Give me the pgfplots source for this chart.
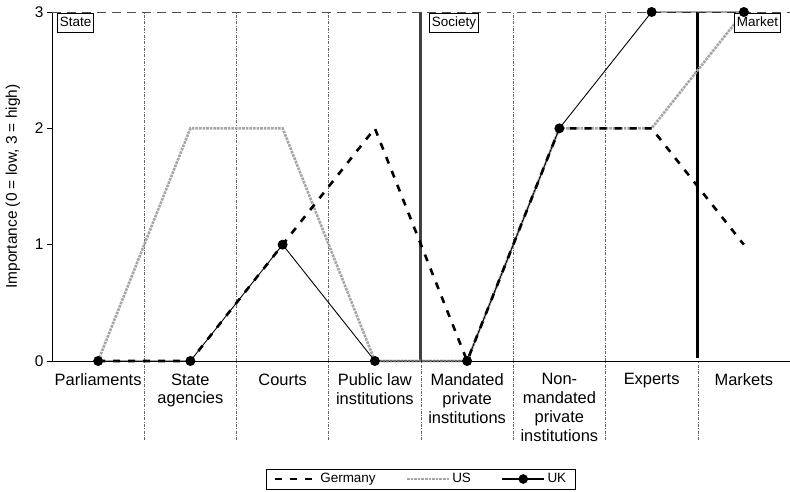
\documentclass[border=0pt]{standalone}
\usepackage{fontspec}
\setmainfont{Liberation Sans}
\usepackage{pgfplots}
\pgfplotsset{compat=1.18}
\pgfplotsset{
  usline/.style={color=black!35, line width=2.6bp, densely dotted},
  deline/.style={color=black, line width=2.6bp, dash pattern=on 7bp off 8bp},
  ukline/.style={color=black, line width=0.9bp, mark=*, mark size=4.5bp, mark options={solid, fill=black}},
}
\begin{document}
\begin{tikzpicture}
\useasboundingbox (-52bp,-131bp) rectangle (738bp,361bp);
\begin{axis}[
  width=738bp, height=349bp, scale only axis,
  at={(0,0)}, anchor=south west,
  xmin=-0.5, xmax=7.5, ymin=0, ymax=3,
  axis lines=left, axis line style={-, line width=0.9bp},
  clip=false,
  xtick={0,...,7},
  xticklabels={Parliaments, {State\\agencies}, Courts, {Public law\\institutions}, {Mandated\\private\\institutions}, {Non-\\mandated\\private\\institutions}, Experts, Markets},
  xticklabel style={align=center, font=\fontsize{16.5}{19}\selectfont, yshift=-4bp},
  x tick style={draw=none},
  ytick={0,1,2,3},
  y tick style={black, line width=0.8bp},
  tick align=outside, major tick length=5bp,
  yticklabel style={font=\fontsize{15.5}{18}\selectfont},
  /pgf/number format/assume math mode=true,
  ylabel={Importance (0 = low, 3 = high)},
  ylabel style={at={([xshift=-39bp]axis description cs:0,0.5)}, anchor=center, font=\fontsize{15.5}{18}\selectfont},
  legend columns=3,
  legend style={at={([yshift=-118bp]axis description cs:0.5,0)}, anchor=center, draw=black, line width=0.8bp, inner xsep=7bp, inner ysep=2.5bp, font=\fontsize{13.5}{16}\selectfont, /tikz/every even column/.append style={column sep=28bp}},
  legend image code/.code={\draw[mark repeat=2,mark phase=2,#1] plot coordinates {(0bp,0bp) (21bp,0bp) (42bp,0bp)};},
]
\addlegendimage{deline}\addlegendentry{Germany}
\addlegendimage{usline}\addlegendentry{US}
\addlegendimage{ukline, line width=2.6bp, mark options={solid, fill=black, line width=0.5bp}}\addlegendentry{UK}

% separators
\pgfplotsinvokeforeach{0.5,1.5,2.5,4.5,5.5}{
  \draw[black!60, line width=0.5bp, dash pattern=on 3bp off 1.5bp on 0.6bp off 1.5bp] (axis cs:#1,-0.68) -- (axis cs:#1,3);
}
\pgfplotsinvokeforeach{3.5,6.5}{
  \draw[black!60, line width=0.5bp, dash pattern=on 3bp off 1.5bp on 0.6bp off 1.5bp] (axis cs:#1,-0.68) -- (axis cs:#1,0);
}
\draw[black!75, line width=3bp] (axis cs:3.5,0) -- (axis cs:3.5,3);
\draw[black, line width=3bp] (axis cs:6.5,0.03) -- (axis cs:6.5,3);
\draw[black!70, line width=0.9bp, dash pattern=on 9bp off 6bp] (axis cs:-0.5,3) -- (axis cs:7.5,3);

\addplot[usline, forget plot] coordinates {(0,0) (1,2) (2,2) (3,0) (4,0) (5,2) (6,2) (7,3)};
\addplot[deline, forget plot] coordinates {(0,0) (1,0) (2,1) (3,2) (4,0) (5,2) (6,2) (7,1)};

\node[draw, line width=0.8bp, fill=white, anchor=north west, inner xsep=2.5bp, inner ysep=3bp, text height=10bp, text depth=3bp, font=\fontsize{13.5}{15}\selectfont] at ([xshift=5bp,yshift=-1.5bp]axis cs:-0.5,3) {State};
\node[draw, line width=0.8bp, fill=white, anchor=north west, inner xsep=2.5bp, inner ysep=3bp, text height=10bp, text depth=3bp, font=\fontsize{13.5}{15}\selectfont] at ([xshift=8bp,yshift=-1.5bp]axis cs:3.5,3) {Society};
\node[draw, line width=0.8bp, fill=white, anchor=north east, inner xsep=2.5bp, inner ysep=3bp, text height=10bp, text depth=3bp, font=\fontsize{13.5}{15}\selectfont] at ([xshift=-9bp,yshift=-1.5bp]axis cs:7.5,3) {Market};

\addplot[ukline, forget plot] coordinates {(0,0) (1,0) (2,1) (3,0) (4,0) (5,2) (6,3) (7,3)};
\end{axis}
\end{tikzpicture}
\end{document}
